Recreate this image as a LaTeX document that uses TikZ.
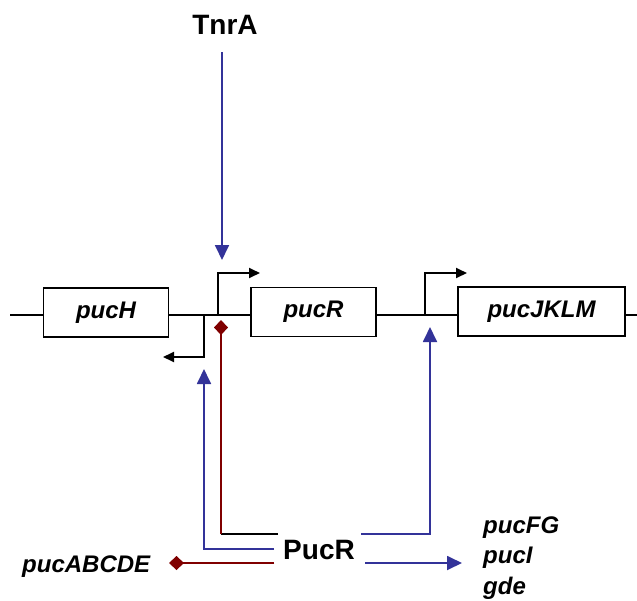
\documentclass[tikz,border=0pt]{standalone}
\usepackage{fontspec}
\setmainfont{Liberation Sans}
\usetikzlibrary{arrows.meta}
\definecolor{regblue}{HTML}{333399}
\definecolor{regred}{HTML}{800000}
\tikzset{
  gene/.style={draw=black, line width=1.8pt, minimum width=125pt, minimum height=49pt, inner sep=0pt, font=\fontsize{24}{28}\selectfont\bfseries\itshape},
  dna/.style={line width=1.8pt, draw=black},
  prom/.style={line width=1.8pt, draw=black, -{Triangle[length=11pt,width=10pt]}},
  act/.style={line width=1.8pt, draw=regblue, -{Triangle[length=15pt,width=14pt]}},
  rep/.style={line width=1.8pt, draw=regred, -{Diamond[length=15pt,width=14pt]}, fill=regred},
  plain/.style={line width=1.8pt},
  big/.style={font=\fontsize{28}{32}\selectfont\bfseries},
  lab/.style={font=\fontsize{24}{28}\selectfont\bfseries\itshape, inner sep=0pt},
}
\begin{document}
\begin{tikzpicture}[x=1pt,y=-1pt]
\useasboundingbox (0,0) rectangle (637,600);
% genes
\node[gene] (pucH) at (106,312.5) {pucH};
\node[gene] (pucR) at (313.5,312) {pucR};
\node[gene, minimum width=167pt] (pucJ) at (541.5,311.5) {pucJKLM};
% DNA line coordinates
\coordinate (dl) at (10,315);
\coordinate (dr) at (637,315);
\coordinate (p1) at (218,315);
\coordinate (p1t) at (218,273);
\coordinate (p1h) at (260,273);
\coordinate (p2) at (204,315);
\coordinate (p2b) at (204,357);
\coordinate (p2h) at (163,357);
\coordinate (p3) at (425,315);
\coordinate (p3t) at (425,273);
\coordinate (p3h) at (467,273);
\draw[dna] (dl) -- (pucH.west |- dl);
\draw[dna] (pucH.east |- dl) -- (pucR.west |- dl);
\draw[dna] (pucR.east |- dl) -- (pucJ.west |- dl);
\draw[dna] (pucJ.east |- dr) -- (dr);
% promoters
\draw[prom] (p1) -- (p1t) -- (p1h);
\draw[prom] (p2) -- (p2b) -- (p2h);
\draw[prom] (p3) -- (p3t) -- (p3h);
% regulators
\node[big, anchor=base] (tnra) at (225,34) {TnrA};
\node[big, anchor=base, inner sep=1pt] (pucr) at (319,559) {PucR};
% TnrA activation
\coordinate (ta) at (222,52);
\coordinate (tb) at (222,260);
\draw[act] (ta) -- (tb);
% PucR repression of own promoter
\coordinate (r1a) at (278,534);
\coordinate (r1b) at (221,534);
\coordinate (r1c) at (221,320);
\draw[plain, black] (r1a) -- (r1b);
\draw[rep] (r1b) -- (r1c);
% PucR activation of divergent promoter
\coordinate (a1a) at (274,549);
\coordinate (a1b) at (204,549);
\coordinate (a1c) at (204,369);
\draw[act] (a1a) -- (a1b) -- (a1c);
% PucR activation of pucJKLM
\coordinate (a2a) at (361,534);
\coordinate (a2b) at (430,534);
\coordinate (a2c) at (430,327);
\draw[act] (a2a) -- (a2b) -- (a2c);
% PucR repression of pucABCDE
\coordinate (r2a) at (274,563);
\coordinate (r2b) at (169,563);
\draw[rep] (r2a) -- (r2b);
% PucR activation of pucFG etc
\coordinate (a3a) at (365,563);
\coordinate (a3b) at (462,563);
\draw[act] (a3a) -- (a3b);
% labels
\node[lab, anchor=base west] (abcde) at (22,572) {pucABCDE};
\node[lab, anchor=base west] (fg) at (483,533) {pucFG};
\node[lab, anchor=base west] (pi) at (483,563) {pucI};
\node[lab, anchor=base west] (gde) at (483,594) {gde};
\end{tikzpicture}
\end{document}
